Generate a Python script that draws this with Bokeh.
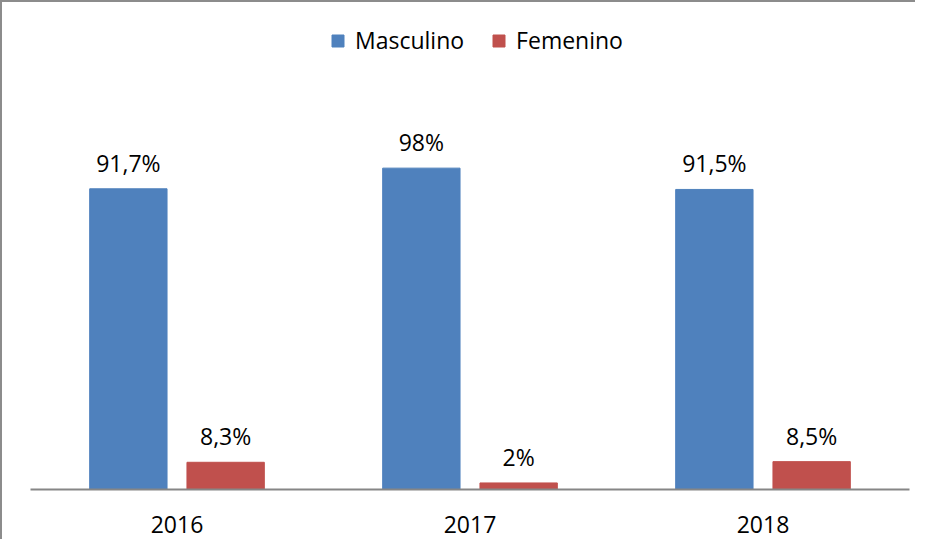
from bokeh.plotting import figure
from bokeh.models import ColumnDataSource, FactorRange, Range1d
from bokeh.transform import dodge
from bokeh.core.properties import value
from bokeh.embed import file_html
from bokeh.resources import INLINE

years = ["2016", "2017", "2018"]
masculino = [91.7, 98, 91.5]
femenino = [8.3, 2, 8.5]
masc_labels = ["91,7%", "98%", "91,5%"]
fem_labels = ["8,3%", "2%", "8,5%"]

src = ColumnDataSource(dict(years=years, masc=masculino, fem=femenino,
                            ml=masc_labels, fl=fem_labels))

FONT = "Open Sans"
p = figure(x_range=FactorRange(*years, range_padding=0), y_range=Range1d(0, 147.9),
           width=915, height=539, output_backend="svg", toolbar_location=None,
           min_border_left=28, min_border_right=8, min_border_top=2, min_border_bottom=52)
p.styles = {"border-left": "2px solid #8c8c8c", "border-top": "2px solid #8c8c8c"}

BLUE = "#4F81BD"
RED = "#C0504D"
p.vbar(x=dodge("years", -0.166, range=p.x_range), top="masc", width=0.264, source=src,
       color=BLUE, legend_label="Masculino")
p.vbar(x=dodge("years", 0.166, range=p.x_range), top="fem", width=0.264, source=src,
       color=RED, legend_label="Femenino")

p.text(x=dodge("years", -0.166, range=p.x_range), y="masc", text="ml", source=src,
       text_align="center", text_baseline="alphabetic", y_offset=-26,
       text_font=value(FONT), text_font_size="23px", text_color="black")
p.text(x=dodge("years", 0.166, range=p.x_range), y="fem", text="fl", source=src,
       text_align="center", text_baseline="alphabetic", y_offset=-26,
       text_font=value(FONT), text_font_size="23px", text_color="black")

p.yaxis.visible = False
p.xgrid.visible = False
p.ygrid.visible = False
p.outline_line_color = None

ax = p.xaxis[0]
ax.axis_line_color = "#868686"
ax.axis_line_width = 2
ax.major_tick_line_color = None
ax.minor_tick_line_color = None
ax.major_tick_out = 0
ax.major_tick_in = 0
ax.major_label_standoff = 26
ax.major_label_text_font = FONT
ax.major_label_text_font_size = "23px"
ax.major_label_text_color = "black"

lg = p.legend[0]
lg.orientation = "horizontal"
lg.location = (300, 433)
lg.border_line_color = None
lg.background_fill_alpha = 0
lg.glyph_width = 15
lg.glyph_height = 15
lg.label_standoff = 10
lg.spacing = 27
lg.padding = 0
lg.margin = 0
lg.label_text_font = FONT
lg.label_text_font_size = "23px"
lg.label_text_color = "black"

open("out.html", "w").write(file_html(p, INLINE))
